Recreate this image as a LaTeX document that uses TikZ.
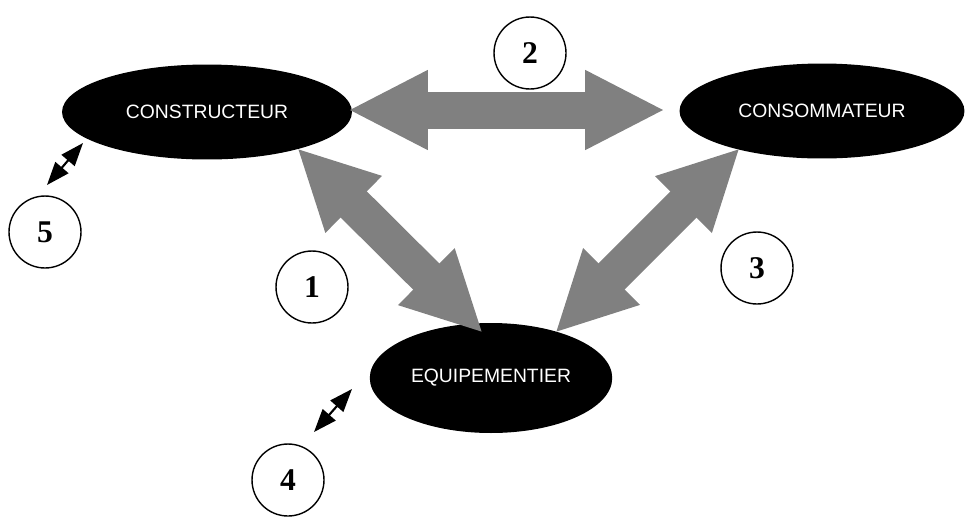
\documentclass[tikz,border=0pt]{standalone}
\usepackage{fontspec}
\setmainfont{Liberation Serif}
\setsansfont{Liberation Sans}
\usepackage{tikz}
\usetikzlibrary{shapes.geometric,arrows.meta}

\begin{document}
\begin{tikzpicture}[
  x=0.02cm, y=-0.02cm,
  acteur/.style={ellipse, fill=black, text=white, inner sep=0pt,
    font=\sffamily\fontsize{11}{13}\selectfont},
  num/.style={circle, draw, thick, minimum size=1.44cm, inner sep=0pt,
    font=\bfseries\fontsize{18}{20}\selectfont},
  fat/.style={draw=gray, line width=0.74cm,
    {Triangle[width=1.48cm,length=1.6cm]}-{Triangle[width=1.48cm,length=1.6cm]}},
  thin/.style={line width=1.2pt,
    {Triangle[width=0.34cm,length=0.46cm]}-{Triangle[width=0.34cm,length=0.46cm]}}
]
\useasboundingbox (0,0) rectangle (972,518);

% --- acteurs ---
\node[acteur, minimum width=5.8cm, minimum height=1.9cm] (constr) at (207,112) {CONSTRUCTEUR};
\node[acteur, minimum width=5.7cm, minimum height=1.9cm] (conso) at (822,111) {CONSOMMATEUR};
\node[acteur, minimum width=4.85cm, minimum height=2.2cm] (equip) at (491,378) {EQUIPEMENTIER};

% --- numeros ---
\node[num] (n1) at (312,287) {1};
\node[num] (n2) at (530,53) {2};
\node[num] (n3) at (757,268) {3};
\node[num] (n4) at (288,480) {4};
\node[num] (n5) at (45,232) {5};

% --- bouts des fleches ---
\coordinate (a2) at (348,110);
\coordinate (b2) at (665,110);
\coordinate (a1) at (297,148);
\coordinate (b1) at (483,333);
\coordinate (a3) at (740,148);
\coordinate (b3) at (555,333);
\coordinate (a5) at (83,143);
\coordinate (b5) at (47,185);
\coordinate (a4) at (352,389);
\coordinate (b4) at (314,432);

\draw[fat] (a2) -- (b2);
\draw[fat] (a1) -- (b1);
\draw[fat] (a3) -- (b3);
\draw[thin] (a5) -- (b5);
\draw[thin] (a4) -- (b4);

\end{tikzpicture}
\end{document}
